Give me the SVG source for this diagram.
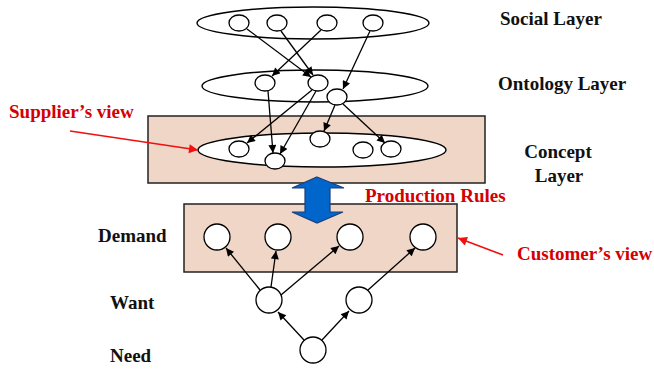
<svg xmlns="http://www.w3.org/2000/svg" width="654" height="369" viewBox="0 0 654 369">
  <style>
    .lbl { font-family: "Liberation Serif", "Times New Roman", serif; font-weight: bold; font-size: 19px; fill: #111; }
    .red { font-family: "Liberation Serif", "Times New Roman", serif; font-weight: bold; font-size: 19px; fill: #d40000; }
    .layer { fill: #fff; stroke: #000; stroke-width: 1.4; }
    .node { fill: #fff; stroke: #000; stroke-width: 1.3; }
    .panel { fill: #f0d6c6; stroke: #222; stroke-width: 1.5; }
    .edge { stroke: #000; stroke-width: 1.3; fill: none; marker-end: url(#ah); }
    .pointer { stroke: #f01010; stroke-width: 1.6; fill: none; marker-end: url(#rh); }
  </style>
  <defs>
    <marker id="ah" viewBox="0 0 10 10" refX="10" refY="5" markerWidth="9" markerHeight="8" markerUnits="userSpaceOnUse" orient="auto">
      <path d="M0,0 L10,5 L0,10 z" fill="#000"/>
    </marker>
    <marker id="rh" viewBox="0 0 10 10" refX="10" refY="5" markerWidth="11" markerHeight="9" markerUnits="userSpaceOnUse" orient="auto">
      <path d="M0,0 L10,5 L0,10 z" fill="#f01010"/>
    </marker>
  </defs>

  <!-- panels -->
  <rect id="concept-panel" class="panel" x="148" y="116" width="337" height="67"/>
  <rect id="demand-panel" class="panel" x="184" y="204" width="273" height="68"/>

  <!-- social layer -->
  <g id="social">
    <ellipse class="layer" cx="313" cy="23" rx="116" ry="16"/>
    <ellipse class="node" cx="239" cy="23" rx="10" ry="8"/>
    <ellipse class="node" cx="277" cy="23" rx="10" ry="8"/>
    <ellipse class="node" cx="327" cy="23" rx="10" ry="8"/>
    <ellipse class="node" cx="373" cy="23" rx="10" ry="8"/>
  </g>

  <!-- ontology layer -->
  <g id="ontology">
    <ellipse class="layer" cx="315" cy="86" rx="113" ry="16"/>
    <ellipse class="node" cx="265" cy="83" rx="10" ry="8"/>
    <ellipse class="node" cx="318" cy="83" rx="10" ry="8"/>
    <ellipse class="node" cx="337" cy="97" rx="10" ry="8"/>
  </g>

  <!-- concept layer -->
  <g id="concept">
    <ellipse class="layer" cx="322" cy="150" rx="124" ry="17"/>
    <ellipse class="node" cx="239" cy="149" rx="10" ry="8"/>
    <ellipse class="node" cx="275" cy="161" rx="10" ry="8"/>
    <ellipse class="node" cx="320" cy="139" rx="10" ry="8"/>
    <ellipse class="node" cx="363" cy="150" rx="10" ry="8"/>
    <ellipse class="node" cx="391" cy="149" rx="10" ry="8"/>
  </g>

  <!-- demand / want / need -->
  <g id="demand">
    <circle class="node" cx="217" cy="237" r="13"/>
    <circle class="node" cx="278" cy="237" r="13"/>
    <circle class="node" cx="350" cy="237" r="13"/>
    <circle class="node" cx="423" cy="237" r="13"/>
  </g>
  <g id="want">
    <circle class="node" cx="269" cy="300" r="13"/>
    <circle class="node" cx="359" cy="300" r="13"/>
  </g>
  <g id="need">
    <circle class="node" cx="313" cy="350" r="13"/>
  </g>

  <!-- connectors -->
  <g id="connectors">
    <line class="edge" x1="247" y1="29" x2="311" y2="77"/>
    <line class="edge" x1="281" y1="31" x2="313" y2="75"/>
    <line class="edge" x1="321" y1="30" x2="272" y2="76"/>
    <line class="edge" x1="370" y1="31" x2="343" y2="89"/>

    <line class="edge" x1="268" y1="91" x2="273" y2="153"/>
    <line class="edge" x1="312" y1="90" x2="247" y2="143"/>
    <line class="edge" x1="316" y1="91" x2="280" y2="154"/>
    <line class="edge" x1="335" y1="105" x2="324" y2="131"/>
    <line class="edge" x1="343" y1="104" x2="385" y2="143"/>

    <line class="edge" x1="260" y1="290" x2="226" y2="248"/>
    <line class="edge" x1="271" y1="287" x2="276" y2="251"/>
    <line class="edge" x1="281" y1="295" x2="339" y2="246"/>
    <line class="edge" x1="368" y1="290" x2="415" y2="248"/>
    <line class="edge" x1="304" y1="340" x2="278" y2="312"/>
    <line class="edge" x1="322" y1="340" x2="349" y2="311"/>

    <line class="pointer" x1="70" y1="131" x2="198" y2="150"/>
    <line class="pointer" x1="503" y1="255" x2="458" y2="238"/>
  </g>

  <!-- production rules double arrow -->
  <g id="production-arrow">
    <path d="M317,177 L344,188 L330,188 L330,212 L343,212 L317,223 L292,212 L305,212 L305,188 L292,188 Z" fill="#0066cc" stroke="#1c3f7a" stroke-width="1.2" stroke-linejoin="miter"/>
  </g>

  <!-- labels -->
  <g id="labels">
    <text class="lbl" x="500" y="25">Social Layer</text>
    <text class="lbl" x="498" y="90">Ontology Layer</text>
    <text class="lbl" x="558" y="158" text-anchor="middle">Concept</text>
    <text class="lbl" x="559" y="182" text-anchor="middle">Layer</text>
    <text class="lbl" x="98" y="242">Demand</text>
    <text class="lbl" x="110" y="309">Want</text>
    <text class="lbl" x="110" y="362">Need</text>
    <text class="red" x="9" y="118">Supplier’s view</text>
    <text class="red" x="365" y="202">Production Rules</text>
    <text class="red" x="517" y="260">Customer’s view</text>
  </g>
</svg>
